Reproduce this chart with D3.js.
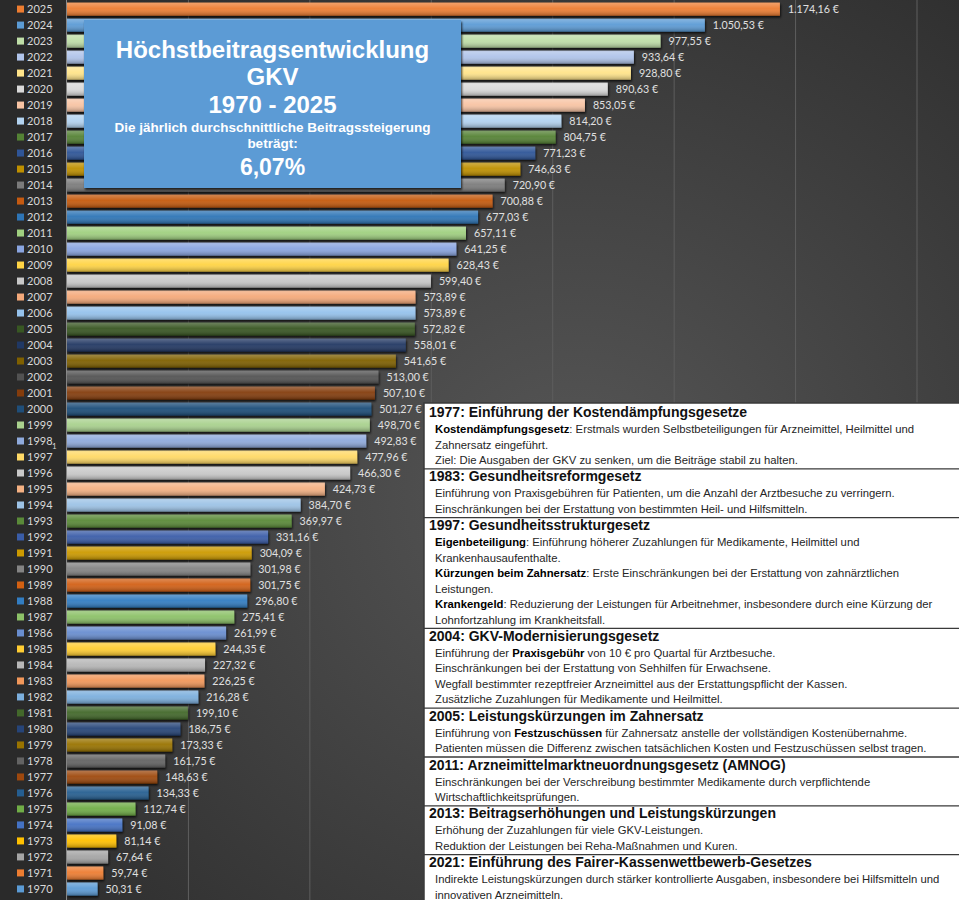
<!DOCTYPE html>
<html>
<head>
<meta charset="utf-8">
<script src="https://cdn.jsdelivr.net/npm/d3@7"></script>
<style>
    html, body { margin: 0; padding: 0; background: #2b2b2b; }
    svg { display: block; }
</style>
</head>
<body>
<svg id="chart" width="959" height="900"></svg>
<script>
const years = [
    1970, 1971, 1972, 1973, 1974, 1975, 1976, 1977, 1978, 1979,
    1980, 1981, 1982, 1983, 1984, 1985, 1986, 1987, 1988, 1989,
    1990, 1991, 1992, 1993, 1994, 1995, 1996, 1997, 1998, 1999,
    2000, 2001, 2002, 2003, 2004, 2005, 2006, 2007, 2008, 2009,
    2010, 2011, 2012, 2013, 2014, 2015, 2016, 2017, 2018, 2019,
    2020, 2021, 2022, 2023, 2024, 2025
];

const maxContribution = [
    50.31, 59.74, 67.64, 81.14, 91.08, 112.74, 134.33, 148.63, 161.75, 173.33,
    186.75, 199.10, 216.28, 226.25, 227.32, 244.35, 261.99, 275.41, 296.80, 301.75,
    301.98, 304.09, 331.16, 369.97, 384.70, 424.73, 466.30, 477.96, 492.83, 498.70,
    501.27, 507.10, 513.00, 541.65, 558.01, 572.82, 573.89, 573.89, 599.40, 628.43,
    641.25, 657.11, 677.03, 700.88, 720.90, 746.63, 771.23, 804.75, 814.20, 853.05,
    890.63, 928.80, 933.64, 977.55, 1050.53, 1174.16
];

const barColors = [
    "#5b9bd5", "#ed7d31", "#a5a5a5", "#ffc000", "#4472c4", "#70ad47",
    "#255e91", "#9e480e", "#636363", "#997300", "#264478", "#43682b",
    "#7cafdd", "#f1975a", "#b7b7b7", "#ffcd33", "#698ed0", "#8cc168",
    "#327dc2", "#d26012", "#848484", "#cc9a00", "#3a5da8", "#5a8a39",
    "#9dc3e6", "#f4b183", "#c9c9c9", "#ffd966", "#8faadc", "#a9d18e",
    "#1f4e79", "#843c0c", "#525252", "#7f6000", "#203864", "#385723",
    "#95c2ec", "#f4a97a", "#c8c8c8", "#ffd445", "#8aa5e0", "#a0d080",
    "#2e75b6", "#c55a11", "#7b7b7b", "#bf9000", "#2f5597", "#548235",
    "#b3d3f0", "#f8c4a4", "#d9d9d9", "#ffe48a", "#b0c4ea", "#bfdea8",
    "#5b9bd5", "#ed7d31"
];

const xTicks = [200, 400, 600, 800, 1000, 1200, 1400];

const titleLines = [
    {text: "Höchstbeitragsentwicklung", size: 24, y: 58},
    {text: "GKV", size: 24, y: 85},
    {text: "1970 - 2025", size: 24, y: 113},
    {text: "Die jährlich durchschnittliche Beitragssteigerung", size: 13.5, y: 132},
    {text: "beträgt:", size: 13.5, y: 148},
    {text: "6,07%", size: 23, y: 175}
];

// each body line: [bold part, normal part, bold part, normal part]
const lawNotes = [
    {head: "1977: Einführung der Kostendämpfungsgesetze", lines: [
        ["Kostendämpfungsgesetz", ": Erstmals wurden Selbstbeteiligungen für Arzneimittel, Heilmittel und"],
        ["", "Zahnersatz eingeführt."],
        ["", "Ziel: Die Ausgaben der GKV zu senken, um die Beiträge stabil zu halten."]
    ]},
    {head: "1983: Gesundheitsreformgesetz", lines: [
        ["", "Einführung von Praxisgebühren für Patienten, um die Anzahl der Arztbesuche zu verringern."],
        ["", "Einschränkungen bei der Erstattung von bestimmten Heil- und Hilfsmitteln."]
    ]},
    {head: "1997: Gesundheitsstrukturgesetz", lines: [
        ["Eigenbeteiligung", ": Einführung höherer Zuzahlungen für Medikamente, Heilmittel und"],
        ["", "Krankenhausaufenthalte."],
        ["Kürzungen beim Zahnersatz", ": Erste Einschränkungen bei der Erstattung von zahnärztlichen"],
        ["", "Leistungen."],
        ["Krankengeld", ": Reduzierung der Leistungen für Arbeitnehmer, insbesondere durch eine Kürzung der"],
        ["", "Lohnfortzahlung im Krankheitsfall."]
    ]},
    {head: "2004: GKV-Modernisierungsgesetz", lines: [
        ["", "Einführung der ", "Praxisgebühr", " von 10 € pro Quartal für Arztbesuche."],
        ["", "Einschränkungen bei der Erstattung von Sehhilfen für Erwachsene."],
        ["", "Wegfall bestimmter rezeptfreier Arzneimittel aus der Erstattungspflicht der Kassen."],
        ["", "Zusätzliche Zuzahlungen für Medikamente und Heilmittel."]
    ]},
    {head: "2005: Leistungskürzungen im Zahnersatz", lines: [
        ["", "Einführung von ", "Festzuschüssen", " für Zahnersatz anstelle der vollständigen Kostenübernahme."],
        ["", "Patienten müssen die Differenz zwischen tatsächlichen Kosten und Festzuschüssen selbst tragen."]
    ]},
    {head: "2011: Arzneimittelmarktneuordnungsgesetz (AMNOG)", lines: [
        ["", "Einschränkungen bei der Verschreibung bestimmter Medikamente durch verpflichtende"],
        ["", "Wirtschaftlichkeitsprüfungen."]
    ]},
    {head: "2013: Beitragserhöhungen und Leistungskürzungen", lines: [
        ["", "Erhöhung der Zuzahlungen für viele GKV-Leistungen."],
        ["", "Reduktion der Leistungen bei Reha-Maßnahmen und Kuren."]
    ]},
    {head: "2021: Einführung des Fairer-Kassenwettbewerb-Gesetzes", lines: [
        ["", "Indirekte Leistungskürzungen durch stärker kontrollierte Ausgaben, insbesondere bei Hilfsmitteln und"],
        ["", "innovativen Arzneimitteln."]
    ]}
];

const formatEuro = v => d3.format(",.2f")(v).replace(/,/g, "#").replace(".", ",").replace(/#/g, ".") + " €";

const width = 959, height = 900;
const plotLeft = 67;

const rows = years.map((year, i) => ({year, value: maxContribution[i], color: barColors[i]}));

const svg = d3.select("#chart");
const defs = svg.append("defs");

const bgGrad = defs.append("radialGradient")
    .attr("id", "bg-grad")
    .attr("cx", "60%").attr("cy", "55%").attr("r", "75%");
bgGrad.append("stop").attr("offset", "0%").attr("stop-color", "#575757");
bgGrad.append("stop").attr("offset", "100%").attr("stop-color", "#2c2c2c");

const shine = defs.append("linearGradient")
    .attr("id", "bar-shine")
    .attr("x1", 0).attr("y1", 0).attr("x2", 0).attr("y2", 1);
shine.append("stop").attr("offset", "0%").attr("stop-color", "#fff").attr("stop-opacity", 0.28);
shine.append("stop").attr("offset", "45%").attr("stop-color", "#fff").attr("stop-opacity", 0.05);
shine.append("stop").attr("offset", "100%").attr("stop-color", "#000").attr("stop-opacity", 0.28);

const shadow = defs.append("filter").attr("id", "bar-shadow")
    .attr("x", "-5%").attr("y", "-30%").attr("width", "110%").attr("height", "180%");
shadow.append("feDropShadow")
    .attr("dx", 1).attr("dy", 2).attr("stdDeviation", 1)
    .attr("flood-color", "#000").attr("flood-opacity", 0.75);

svg.append("rect")
    .attr("width", width).attr("height", height)
    .attr("fill", "url(#bg-grad)");

svg.append("rect")
    .attr("width", plotLeft).attr("height", height)
    .attr("fill", "#2a2a2a");

const x = d3.scaleLinear()
    .domain([0, 1400])
    .range([plotLeft, 917]);

const y = d3.scaleBand()
    .domain(years.slice().reverse())
    .range([1, 897])
    .paddingInner(0.19)
    .paddingOuter(0.1);

svg.append("g")
    .attr("class", "grid")
    .selectAll("line")
    .data(xTicks)
    .enter().append("line")
    .attr("x1", d => x(d)).attr("x2", d => x(d))
    .attr("y1", 0).attr("y2", height)
    .attr("stroke", "#5e5e5e")
    .attr("stroke-width", 1);

svg.append("line")
    .attr("x1", plotLeft - 0.5).attr("x2", plotLeft - 0.5)
    .attr("y1", 0).attr("y2", height)
    .attr("stroke", "#8c8c8c");

const bars = svg.append("g").attr("class", "bars");

bars.selectAll("rect.bar")
    .data(rows)
    .enter().append("rect")
    .attr("class", "bar")
    .attr("x", x(0))
    .attr("y", d => y(d.year))
    .attr("width", d => x(d.value) - x(0))
    .attr("height", y.bandwidth())
    .attr("fill", d => d.color)
    .attr("filter", "url(#bar-shadow)");

bars.selectAll("rect.shine")
    .data(rows)
    .enter().append("rect")
    .attr("class", "shine")
    .attr("x", x(0))
    .attr("y", d => y(d.year))
    .attr("width", d => x(d.value) - x(0))
    .attr("height", y.bandwidth())
    .attr("fill", "url(#bar-shine)");

svg.append("g")
    .attr("class", "value-labels")
    .selectAll("text")
    .data(rows)
    .enter().append("text")
    .attr("x", d => x(d.value) + 8)
    .attr("y", d => y(d.year) + y.bandwidth() / 2 + 4)
    .attr("fill", "#e0e0e0")
    .attr("font-family", "Lato, 'Open Sans', sans-serif")
    .attr("font-size", 10.7)
    .text(d => formatEuro(d.value));

const legend = svg.append("g").attr("class", "legend");

legend.selectAll("rect")
    .data(rows)
    .enter().append("rect")
    .attr("x", 17)
    .attr("y", d => y(d.year) + y.bandwidth() / 2 - 3.5)
    .attr("width", 7).attr("height", 7)
    .attr("fill", d => d.color);

legend.selectAll("text")
    .data(rows)
    .enter().append("text")
    .attr("x", 27)
    .attr("y", d => y(d.year) + y.bandwidth() / 2 + 4)
    .attr("fill", "#d9d9d9")
    .attr("font-family", "Lato, 'Open Sans', sans-serif")
    .attr("font-size", 11)
    .text(d => d.year);

svg.append("text")
    .attr("x", 52)
    .attr("y", y(1998) + y.bandwidth() / 2 + 8)
    .attr("fill", "#d9d9d9")
    .attr("font-family", "Lato, sans-serif")
    .attr("font-size", 8)
    .text("1");

// title box
const titleBox = svg.append("g").attr("class", "title-box");
titleBox.append("rect")
    .attr("x", 84).attr("y", 20)
    .attr("width", 377).attr("height", 168)
    .attr("fill", "#5b9bd5")
    .attr("filter", "url(#bar-shadow)");

titleBox.selectAll("text")
    .data(titleLines)
    .enter().append("text")
    .attr("x", 272.5)
    .attr("y", d => d.y)
    .attr("text-anchor", "middle")
    .attr("fill", "#ffffff")
    .attr("font-family", "'Liberation Sans', Arial, sans-serif")
    .attr("font-weight", "bold")
    .attr("font-size", d => d.size)
    .text(d => d.text);

// annotation box
const notes = svg.append("g").attr("class", "notes");
notes.append("rect")
    .attr("x", 424).attr("y", 403)
    .attr("width", 545).attr("height", 510)
    .attr("fill", "#ffffff")
    .attr("stroke", "#3a3a3a")
    .attr("stroke-width", 1.5);

const lineStep = 15.5;
let cursor = 417;

lawNotes.forEach((note, i) => {
    if (i > 0) {
        notes.append("line")
            .attr("x1", 424).attr("x2", 960)
            .attr("y1", cursor - 12.5).attr("y2", cursor - 12.5)
            .attr("stroke", "#3a3a3a")
            .attr("stroke-width", 1.3);
    }
    notes.append("text")
        .attr("x", 429)
        .attr("y", cursor)
        .attr("fill", "#111")
        .attr("font-family", "'Liberation Sans', Arial, sans-serif")
        .attr("font-weight", "bold")
        .attr("font-size", 14)
        .text(note.head);

    let lineY = cursor + 16;
    note.lines.forEach(parts => {
        const t = notes.append("text")
            .attr("x", 435)
            .attr("y", lineY)
            .attr("fill", "#262626")
            .attr("font-family", "'Liberation Sans', Arial, sans-serif")
            .attr("font-size", 11.3);
        parts.forEach((part, k) => {
            if (!part) return;
            t.append("tspan")
                .attr("font-weight", k % 2 === 0 ? "bold" : "normal")
                .attr("fill", k % 2 === 0 ? "#000" : "#262626")
                .text(part);
        });
        lineY += lineStep;
    });
    cursor = lineY - lineStep + 17.3;
});
</script>
</body>
</html>
